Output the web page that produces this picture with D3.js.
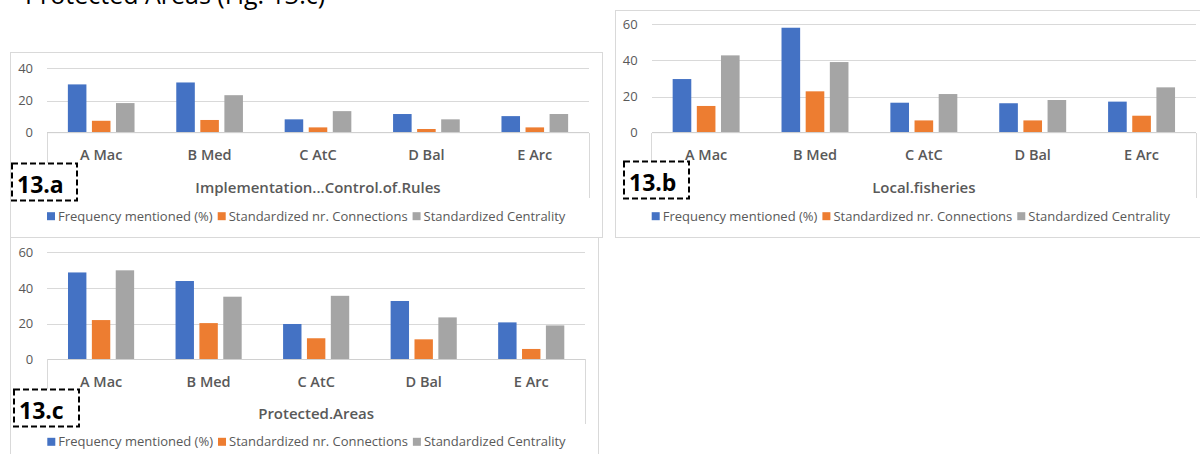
<!DOCTYPE html>
<html>
<head>
<meta charset="utf-8">
<script src="https://cdn.jsdelivr.net/npm/d3@7"></script>
<style>
  html, body { margin: 0; padding: 0; background: #fff; }
  svg { display: block; }
  text { font-family: "Open Sans", "Noto Sans", sans-serif; }
</style>
</head>
<body>
<svg id="chart" width="1200" height="454"></svg>
<script>
// Regions shown on every panel
const categories = ["A Mac", "B Med", "C AtC", "D Bal", "E Arc"];
const seriesNames = ["Frequency mentioned (%)", "Standardized nr. Connections", "Standardized Centrality"];
const seriesColors = ["#4472C4", "#ED7D31", "#A5A5A5"];

// 13.a  Implementation...Control.of.Rules
const rulesFrequency = [30.0, 31.2, 8.3, 11.6, 10.3];
const rulesConnections = [7.4, 7.9, 3.3, 2.3, 3.3];
const rulesCentrality = [18.4, 23.3, 13.4, 8.3, 11.6];
const rulesTicks = [0, 20, 40];

// 13.b  Local.fisheries
const fisheriesFrequency = [29.7, 58.1, 16.6, 16.3, 17.2];
const fisheriesConnections = [14.8, 22.9, 6.8, 6.8, 9.4];
const fisheriesCentrality = [42.8, 39.1, 21.4, 18.1, 25.1];
const fisheriesTicks = [0, 20, 40, 60];

// 13.c  Protected.Areas
const areasFrequency = [48.7, 43.9, 19.8, 32.7, 20.7];
const areasConnections = [22.0, 20.3, 11.8, 11.2, 5.8];
const areasCentrality = [49.9, 35.1, 35.6, 23.5, 19.0];
const areasTicks = [0, 20, 40, 60];

const svg = d3.select("#chart");
const grid = "#D9D9D9";
const ink = "#595959";

// Caption line from the surrounding document, mostly cut off at the top
svg.append("text")
  .attr("x", 25).attr("y", 4)
  .attr("font-size", 25).attr("fill", "#000")
  .text("Protected Areas (Fig. 13.c)");

function drawPanel(p) {
  const g = svg.append("g");

  // chart frame
  g.append("rect")
    .attr("x", p.box[0]).attr("y", p.box[1])
    .attr("width", p.box[2]).attr("height", p.box[3])
    .attr("fill", "#fff").attr("stroke", grid).attr("stroke-width", 1);

  const y = d3.scaleLinear().domain([0, d3.max(p.ticks)]).range([p.y0, p.yTop]);
  const x = d3.scaleBand().domain(categories).range([p.x0, p.x1]).padding(0);
  const groupW = x.bandwidth() * 0.615;
  const xs = d3.scaleBand().domain(d3.range(3))
    .range([(x.bandwidth() - groupW) / 2, (x.bandwidth() + groupW) / 2])
    .paddingInner(0.229).paddingOuter(0);

  // gridlines via the value axis
  const yAxis = d3.axisLeft(y).tickValues(p.ticks).tickSize(-(p.x1 - p.x0)).tickPadding(14);
  const ya = g.append("g").attr("transform", `translate(${p.x0},0)`).call(yAxis);
  ya.select(".domain").remove();
  ya.selectAll(".tick line").attr("stroke", grid).attr("stroke-width", 1)
    .attr("shape-rendering", "crispEdges");
  ya.selectAll(".tick text").attr("fill", ink).attr("font-size", 13)
    .attr("font-family", "'Open Sans', sans-serif");

  // bars
  const values = [p.freq, p.conn, p.cent];
  const rows = categories.map((c, i) => ({ c, v: values.map(s => s[i]) }));
  const grp = g.append("g").selectAll("g").data(rows).join("g")
    .attr("transform", d => `translate(${x(d.c)},0)`);
  grp.selectAll("rect").data(d => d.v.map((v, k) => ({ v, k }))).join("rect")
    .attr("x", d => xs(d.k))
    .attr("width", xs.bandwidth())
    .attr("y", d => y(d.v))
    .attr("height", d => y(0) - y(d.v))
    .attr("fill", d => seriesColors[d.k]);

  // white label area under the plot with its thin outline
  g.append("rect")
    .attr("x", p.x0).attr("y", p.y0 + 0.5)
    .attr("width", p.x1 - p.x0).attr("height", 64)
    .attr("fill", "#fff");
  const edge = g.append("g").attr("stroke", grid).attr("stroke-width", 1).attr("fill", "none")
    .attr("shape-rendering", "crispEdges");
  edge.append("line").attr("x1", p.x0).attr("x2", p.x1).attr("y1", p.y0).attr("y2", p.y0)
    .attr("stroke", "#D0D0D0");
  edge.append("line").attr("x1", p.x0).attr("x2", p.x0).attr("y1", p.y0).attr("y2", p.y0 + 30);
  edge.append("line").attr("x1", p.x1).attr("x2", p.x1).attr("y1", p.y0).attr("y2", p.y0 + 65);

  // category axis labels
  const xAxis = d3.axisBottom(x).tickSize(0).tickPadding(0);
  const xa = g.append("g").attr("transform", `translate(0,${p.y0 + 17})`).call(xAxis);
  xa.select(".domain").remove();
  xa.selectAll(".tick text").attr("fill", ink).attr("font-size", 14.5).attr("font-weight", 600)
    .attr("font-family", "'Open Sans', sans-serif");

  // axis title
  g.append("text")
    .attr("x", (p.x0 + p.x1) / 2).attr("y", p.y0 + 60)
    .attr("text-anchor", "middle").attr("fill", ink)
    .attr("font-size", 15).attr("font-weight", 600)
    .text(p.title);

  // legend
  const leg = g.append("g").attr("transform", `translate(${p.x0},${p.y0 + p.legendDy})`);
  let lx = 0;
  seriesNames.forEach((name, k) => {
    leg.append("rect").attr("x", lx).attr("y", -8.5).attr("width", 8).attr("height", 8)
      .attr("fill", seriesColors[k]);
    const t = leg.append("text").attr("x", lx + 11).attr("y", 0)
      .attr("font-size", 13).attr("fill", ink).text(name);
    lx += 11 + t.node().getComputedTextLength() + 5;
  });

  // panel tag in a dashed box
  g.append("rect")
    .attr("x", p.tag[0]).attr("y", p.tag[1]).attr("width", 65).attr("height", 37)
    .attr("fill", "#fff").attr("stroke", "#000").attr("stroke-width", 2)
    .attr("stroke-dasharray", "6,3");
  g.append("text")
    .attr("x", p.tag[0] + 5).attr("y", p.tag[1] + 29)
    .attr("font-size", 23).attr("font-weight", 700).attr("fill", "#000")
    .text(p.tagText);
}

drawPanel({
  box: [10.5, 52.5, 592, 185], x0: 47, x1: 589, y0: 132.7, yTop: 68.3,
  ticks: rulesTicks, freq: rulesFrequency, conn: rulesConnections, cent: rulesCentrality,
  title: "Implementation...Control.of.Rules", legendDy: 88,
  tag: [12, 163.5], tagText: "13.a"
});

drawPanel({
  box: [615.5, 10.5, 600, 227], x0: 651.7, x1: 1196, y0: 132.7, yTop: 24.3,
  ticks: fisheriesTicks, freq: fisheriesFrequency, conn: fisheriesConnections, cent: fisheriesCentrality,
  title: "Local.fisheries", legendDy: 88,
  tag: [624, 161.5], tagText: "13.b"
});

drawPanel({
  box: [10.5, 237.5, 588, 230], x0: 47.3, x1: 585, y0: 359.3, yTop: 252.3,
  ticks: areasTicks, freq: areasFrequency, conn: areasConnections, cent: areasCentrality,
  title: "Protected.Areas", legendDy: 87,
  tag: [14, 389.5], tagText: "13.c"
});
</script>
</body>
</html>
